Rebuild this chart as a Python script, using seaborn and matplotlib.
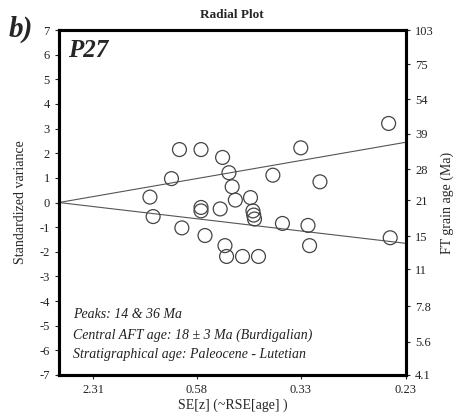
import numpy as np
import pandas as pd
import matplotlib
matplotlib.use("Agg")
import matplotlib.pyplot as plt
import seaborn as sns

# precision (1/SE[z]) and standardized estimate of each grain
precision = [1.51, 1.78, 2.05, 2.13, 1.41, 2.17, 1.14, 2.21, 2.40, 1.78,
             1.78, 2.02, 2.43, 2.44, 2.45, 1.18, 1.54, 1.83, 2.08, 2.10,
             2.30, 2.50, 2.68, 3.03, 4.13, 3.27, 2.80, 3.12, 3.14, 4.15]
std_est = [2.15, 2.15, 1.83, 1.21, 0.97, 0.64, 0.22, 0.10, 0.20, -0.20,
           -0.34, -0.26, -0.34, -0.51, -0.67, -0.57, -1.03, -1.34, -1.75, -2.19,
           -2.19, -2.19, 1.11, 2.22, 3.21, 0.84, -0.85, -0.93, -1.75, -1.43]

se_ticks = [2.31, 0.58, 0.33, 0.23]
left_ticks = list(range(-7, 8))
age_ticks = [103, 75, 54, 39, 28, 21, 15, 11, 7.8, 5.6, 4.1]
age_labels = ["103", "75", "54", "39", "28", "21", "15", "11", "7.8", "5.6", "4.1"]
peaks = [14, 36]
ref_age = 20.5

sns.set_style("ticks")
plt.rcParams['font.family'] = ['Liberation Serif', 'DejaVu Serif']

fig = plt.figure(figsize=(4.64, 4.18), dpi=100)
ax = fig.add_axes([0.127, 0.103, 0.748, 0.825])

xmax = 1 / se_ticks[-1]
df = pd.DataFrame({"precision": precision, "z": std_est})

# peak lines
for p in peaks:
    yend = np.log(p / ref_age) * xmax
    ax.plot([0, xmax], [0, yend], color="#555555", lw=0.8, zorder=1)

sns.scatterplot(data=df, x="precision", y="z", ax=ax, s=100,
                facecolor="none", edgecolor="#444444", linewidth=0.9, zorder=3)

ax.set_xlim(0, xmax)
ax.set_ylim(-7, 7)
ax.set_xticks([1 / s for s in se_ticks])
ax.set_xticklabels([f"{s:.2f}" for s in se_ticks])
ax.set_yticks(left_ticks)
ax.set_yticklabels([str(t) for t in left_ticks])
ax.tick_params(labelsize=9, length=3, width=0.8, colors="#222222")
ax.set_xlabel("SE[z] (~RSE[age] )", fontsize=10, labelpad=2)
ax.set_ylabel("Standardized variance", fontsize=10, labelpad=9)

ax2 = ax.twinx()
ax2.set_ylim(-7, 7)
ax2.set_yticks([np.log(a / ref_age) * xmax for a in age_ticks])
ax2.set_yticklabels(age_labels)
ax2.tick_params(labelsize=9, length=3, width=0.8, colors="#222222")
ax2.set_ylabel("FT grain age (Ma)", fontsize=10, labelpad=5)
for a in (ax, ax2):
    for sp in a.spines.values():
        sp.set_linewidth(2.2)
        sp.set_color("black")

ax.text(0.025, 0.975, "P27", transform=ax.transAxes, fontsize=18,
        fontweight="bold", style="italic", va="top", ha="left")
ax.text(0.04, 0.175, "Peaks: 14 & 36 Ma", transform=ax.transAxes,
        fontsize=10, style="italic", va="center", color="#222222")
ax.text(0.04, 0.115, "Central AFT age: 18 \u00b1 3 Ma (Burdigalian)",
        transform=ax.transAxes, fontsize=10, style="italic", va="center",
        color="#222222")
ax.text(0.04, 0.058, "Stratigraphical age: Paleocene - Lutetian",
        transform=ax.transAxes, fontsize=10, style="italic", va="center",
        color="#222222")

fig.text(0.5, 0.965, "Radial Plot", ha="center", va="center", fontsize=9.5,
         fontweight="bold")
fig.text(0.018, 0.93, "b)", ha="left", va="center", fontsize=21,
         fontweight="bold", style="italic")

fig.savefig("out.png", dpi=100, facecolor="white")
